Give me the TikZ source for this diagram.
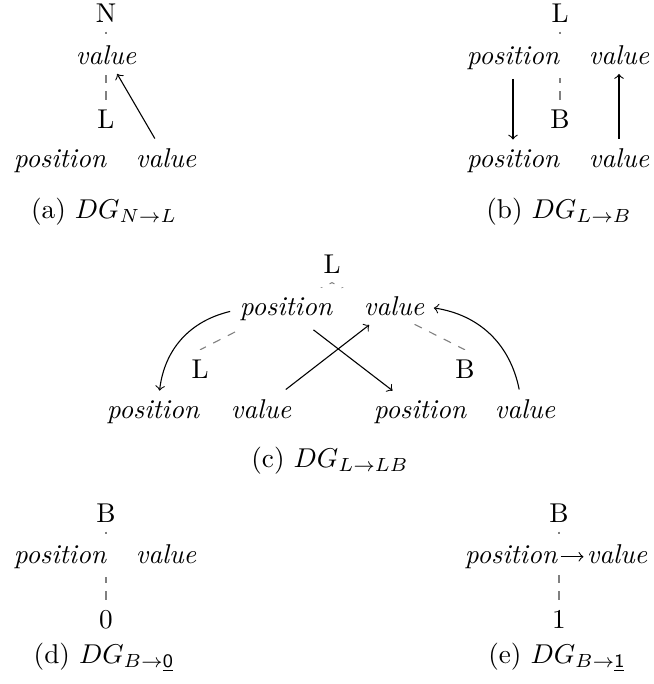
\documentclass[tikz,border=0pt]{standalone}
\usepackage{amssymb}
\usetikzlibrary{backgrounds}

\begin{document}
\begin{tikzpicture}[x=0.3676pt, y=-0.3676pt,
	lab/.style={anchor=base, fill=white},
	fld/.style={anchor=base, fill=white, font=\itshape},
	link/.style={dashed, dash phase=2pt, gray},
	subcap/.style={anchor=base}]
\useasboundingbox (0,0) rectangle (654,684);

% (a)
\node[lab] (Na) at (106,22) {N};
\node[fld] (va) at (106,64) {value};
\node[lab] (La) at (106,128) {L};
\node[fld] (pa1) at (60,167) {position};
\node[fld] (va1) at (166,167) {value};
\node[subcap] (capa) at (104,218) {(a) $DG_{N\rightarrow L}$};
\draw[->] (va1) -- (va);

% (b)
\node[lab] (Lb) at (560,22) {L};
\node[fld] (pb) at (513,64) {position};
\node[fld] (vb) at (619,64) {value};
\node[lab] (Bb) at (560,128) {B};
\node[fld] (pb1) at (513,167) {position};
\node[fld] (vb1) at (619,167) {value};
\node[subcap] (capb) at (559,218) {(b) $DG_{L\rightarrow B}$};
\draw[->] (pb) -- (pb1);
\draw[->] (vb1) -- (vb);

% (c)
\node[lab] (Lc) at (332,273) {L};
\node[fld] (pc) at (286,315) {position};
\node[fld] (vc) at (394,315) {value};
\node[lab] (Lc1) at (200,378) {L};
\node[lab] (Bc2) at (465,378) {B};
\node[fld] (pc1) at (153,418) {position};
\node[fld] (vc1) at (261,418) {value};
\node[fld] (pc2) at (420,418) {position};
\node[fld] (vc2) at (525,418) {value};
\node[subcap] (capc) at (330,467) {(c) $DG_{L\rightarrow LB}$};
\draw[->] (pc) to[bend right=35] (pc1);
\draw[->] (vc2) to[bend right=35] (vc);
\draw[->] (vc1) -- (vc);
\draw[->] (pc) -- (pc2);

% (d)
\node[lab] (Bd) at (106,522) {B};
\node[fld] (pd) at (60,563) {position};
\node[fld] (vd) at (166,563) {value};
\node[lab] (zd) at (106,628) {0};
\node[subcap] (capd) at (104,663) {(d) $DG_{B\rightarrow \underline{\mathsf{0}}}$};

% (e)
\node[lab] (Be) at (559,522) {B};
\node[fld, inner sep=1pt] (pe) at (511,563) {position};
\node[fld, inner sep=1pt] (ve) at (617,563) {value};
\node[lab] (oe) at (559,628) {1};
\node[subcap] (cape) at (557,663) {(e) $DG_{B\rightarrow \underline{\mathsf{1}}}$};
\draw[->] (pe.east) -- (pe.east -| ve.west);

% tree edges behind the fields
\begin{scope}[on background layer]
\draw[link] (Na.south) -- (La.north);
\draw[link] (Lb.south) -- (Bb.north);
\draw[link] (Lc.south) -- (Lc1.north);
\draw[link] (Lc.south) -- (Bc2.north);
\draw[link] (Bd.south) -- (zd.north);
\draw[link] (Be.south) -- (oe.north);
\fill[white] (pc.north east) rectangle (vc.south west); % row hides the edges
\end{scope}

\end{tikzpicture}
\end{document}
